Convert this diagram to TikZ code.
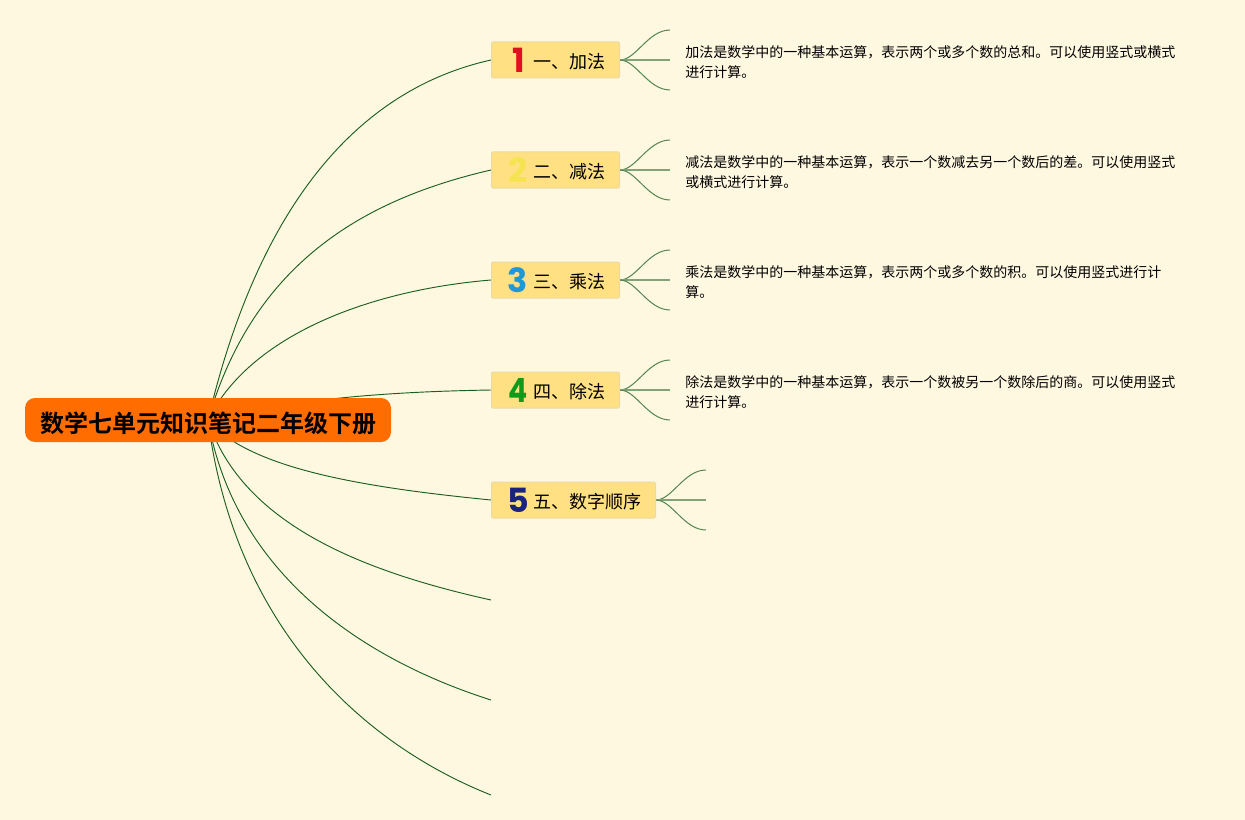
\documentclass[tikz,border=0pt]{standalone}
\usepackage{fontspec}
\setmainfont{Noto Sans CJK SC}[BoldFont={Noto Sans CJK SC Bold}]
\newfontfamily\digitfont{Poppins}
\usetikzlibrary{backgrounds}
\definecolor{bgc}{HTML}{FFF8E1}
\definecolor{rootc}{HTML}{FF6D00}
\definecolor{topicc}{HTML}{FFE082}
\definecolor{topicb}{HTML}{E9D9A6}
\definecolor{linec}{HTML}{1B5E20}
\definecolor{numa}{HTML}{E01020}
\definecolor{numb}{HTML}{F5E34F}
\definecolor{numc}{HTML}{2196D8}
\definecolor{numd}{HTML}{0E9B1A}
\definecolor{nume}{HTML}{1A237E}
\tikzset{
  rootnode/.style={fill=rootc,rounded corners=7.5pt,minimum width=274.5pt,minimum height=33pt,inner sep=0pt},
  roottext/.style={font=\fontsize{18pt}{18pt}\selectfont\bfseries,inner sep=0pt},
  topicnode/.style={fill=topicc,draw=topicb,line width=0.75pt,rounded corners=1pt,minimum height=27pt,inner sep=0pt,anchor=west},
  topictext/.style={font=\fontsize{13.5pt}{16pt}\selectfont,inner sep=0pt,anchor=west},
  numnode/.style={font=\digitfont\fontsize{25pt}{25pt}\selectfont\bfseries,inner sep=0pt},
  desc/.style={font=\fontsize{10.5pt}{15pt}\selectfont,inner sep=0pt,anchor=north west,align=left},
  mainline/.style={draw=linec,line width=0.7pt},
  forkline/.style={draw=linec!75!bgc,line width=0.75pt},
  forkmid/.style={draw=linec!55!bgc,line width=1pt},
}
\begin{document}
\begin{tikzpicture}[x=0.75pt,y=-0.75pt]
\begin{scope}[on background layer]
\useasboundingbox[fill=bgc] (0,0) rectangle (1245,820);
\end{scope}
\node[rootnode] (root) at (208,420) {};
\node[roottext] (rt) at (208,423) {数学七单元知识笔记二年级下册};
\node[topicnode,minimum width=96pt] (t1) at (491,60) {};
\node[topicnode,minimum width=96pt] (t2) at (491,170) {};
\node[topicnode,minimum width=96pt] (t3) at (491,280) {};
\node[topicnode,minimum width=96pt] (t4) at (491,390) {};
\node[topicnode,minimum width=123pt] (t5) at (491,500) {};
\node[numnode,text=numa] (n1) at (518.5,60) {1};
\node[numnode,text=numb] (n2) at (518,170) {2};
\node[numnode,text=numc] (n3) at (518,280) {3};
\node[numnode,text=numd,xscale=0.85] (n4) at (518.5,390) {4};
\node[numnode,text=nume] (n5) at (518,500) {5};
\node[topictext] (l1) at (533,61.5) {一、加法};
\node[topictext] (l2) at (533,171.5) {二、减法};
\node[topictext] (l3) at (533,281.5) {三、乘法};
\node[topictext] (l4) at (533,391.5) {四、除法};
\node[topictext] (l5) at (533,501.5) {五、数字顺序};
\node[desc] (d1) at (685,45) {加法是数学中的一种基本运算，表示两个或多个数的总和。可以使用竖式或横式\\进行计算。};
\node[desc] (d2) at (685,155) {减法是数学中的一种基本运算，表示一个数减去另一个数后的差。可以使用竖式\\或横式进行计算。};
\node[desc] (d3) at (685,265) {乘法是数学中的一种基本运算，表示两个或多个数的积。可以使用竖式进行计\\算。};
\node[desc] (d4) at (685,375) {除法是数学中的一种基本运算，表示一个数被另一个数除后的商。可以使用竖式\\进行计算。};
\coordinate (e6) at (491,600);
\coordinate (e7) at (491,700);
\coordinate (e8) at (491,795);
\foreach \i/\y/\x in {1/60/670,2/170/670,3/280/670,4/390/670,5/500/706}{
  \coordinate (f\i a) at (\x,\y-30);
  \coordinate (f\i b) at (\x,\y);
  \coordinate (f\i c) at (\x,\y+30);
}
\begin{scope}[on background layer]
\draw[mainline] (root.center) .. controls (258,208) and (356,90) .. (t1.west);
\draw[mainline] (root.center) .. controls (253,265) and (361,200) .. (t2.west);
\draw[mainline] (root.center) .. controls (250,335) and (370,290) .. (t3.west);
\draw[mainline] (root.center) .. controls (288,401) and (371,392) .. (t4.west);
\draw[mainline] (root.center) .. controls (250,470) and (370,488) .. (t5.west);
\draw[mainline] (root.center) .. controls (242,525) and (365,572) .. (e6);
\draw[mainline] (root.center) .. controls (235,575) and (365,660) .. (e7);
\draw[mainline] (root.center) .. controls (235,630) and (365,745) .. (e8);
\foreach \i in {1,2,3,4,5}{
  \draw[forkline] (t\i.east) .. controls +(16,0) and +(-22,0) .. (f\i a);
  \draw[forkmid] (t\i.east) -- (f\i b);
  \draw[forkline] (t\i.east) .. controls +(16,0) and +(-22,0) .. (f\i c);
}
\end{scope}
\end{tikzpicture}
\end{document}
